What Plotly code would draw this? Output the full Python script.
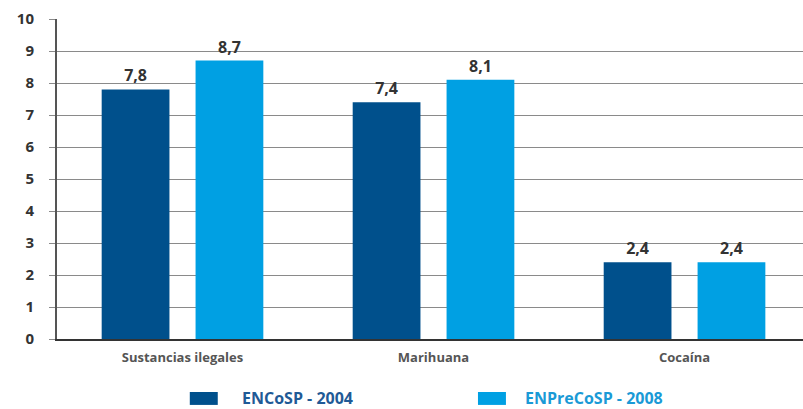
import plotly.graph_objects as go

categories = ["Sustancias ilegales", "Marihuana", "Cocaína"]
encosp_2004 = [7.8, 7.4, 2.4]
enprecosp_2008 = [8.7, 8.1, 2.4]
series_names = ["ENCoSP - 2004", "ENPreCoSP - 2008"]
y_ticks = list(range(0, 11))

DARK = "#00508C"
LIGHT = "#00A0E3"
FONT = "Open Sans"

fig = go.Figure()

bar_w = 0.27
for vals, color, off in [(encosp_2004, DARK, -0.322), (enprecosp_2008, LIGHT, 0.052)]:
    fig.add_trace(go.Bar(
        x=list(range(len(categories))), y=vals,
        width=bar_w, offset=off,
        marker=dict(color=color, line=dict(width=0)),
        texttemplate="<b>%{y:.1f}</b>", textposition="outside",
        textfont=dict(family=FONT, size=16, color="#333333"),
        cliponaxis=False, showlegend=False, hoverinfo="skip",
    ))

# legend drawn as swatches + coloured captions (paper x of swatch, caption)
legend_items = [(0.178, 0.2453, DARK, "#1F5A96"), (0.5643, 0.6247, LIGHT, "#1A9AD6")]
for (x0, xt, color, txt_color), name in zip(legend_items, series_names):
    fig.add_shape(type="rect", xref="paper", yref="paper",
                  x0=x0, x1=x0 + 0.0375, y0=-0.1656, y1=-0.206,
                  fillcolor=color, line=dict(width=0))
    fig.add_annotation(xref="paper", yref="paper", x=xt, y=-0.184,
                       text=f"<b>{name}</b>", showarrow=False, xanchor="left",
                       yanchor="middle",
                       font=dict(family=FONT, size=16, color=txt_color))

fig.update_layout(
    width=803, height=409,
    margin=dict(l=57, r=0, t=19, b=70),
    paper_bgcolor="white", plot_bgcolor="white",
    barmode="overlay", separators=",.",
    xaxis=dict(
        range=[-0.5, 2.472], tickvals=list(range(len(categories))),
        ticktext=[f"<b>{c}</b>" for c in categories],
        tickfont=dict(family=FONT, size=13, color="#555555"),
        showgrid=False, zeroline=False,
        showline=True, linecolor="#333333", linewidth=2,
        ticks="", ticklabelstandoff=5,
    ),
    yaxis=dict(
        range=[0, 10], tickvals=y_ticks,
        ticktext=[f"<b>{v}</b>" for v in y_ticks],
        tickfont=dict(family=FONT, size=15, color="#333333"),
        showgrid=True, gridcolor="#8a8a8a", gridwidth=1,
        zeroline=False, showline=True, linecolor="#555555", linewidth=2,
        ticks="outside", ticklen=6, tickcolor="#8a8a8a",
        ticklabelstandoff=12,
    ),
)

fig.write_html("out.html")
